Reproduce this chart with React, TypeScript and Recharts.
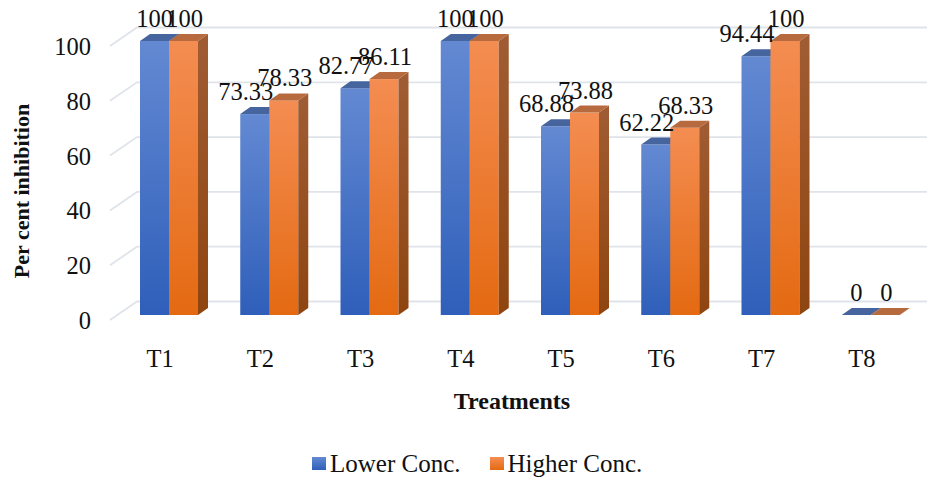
import React from "react";
import { BarChart, Bar, XAxis, YAxis, CartesianGrid, LabelList, Legend } from "recharts";

const treatments = ["T1", "T2", "T3", "T4", "T5", "T6", "T7", "T8"];
const lowerConc = [100, 73.33, 82.77, 100, 68.88, 62.22, 94.44, 0];
const higherConc = [100, 78.33, 86.11, 100, 73.88, 68.33, 100, 0];
const yTicks = [0, 20, 40, 60, 80, 100];
const data = treatments.map((t, i) => ({ t, lower: lowerConc[i], higher: higherConc[i] }));

const FONT = "'Liberation Serif', 'Times New Roman', serif";
const FS = 24.5;
const DEPTH_X = 10;
const DEPTH_Y = 7;

const LOWER = { id: "gradLower", a: "#6389d2", b: "#2f5fba", top: "#46659f", side: "#3c5a94", sideB: "#264a8a" };
const HIGHER = { id: "gradHigher", a: "#f48d52", b: "#e46a12", top: "#b66a3e", side: "#a05c33", sideB: "#8e4510" };

const box3d = (c: typeof LOWER) => (p: any) => {
  const { x, y, width: w, height: h } = p;
  return (
    <g>
      {h > 0 && <rect x={x} y={y} width={w} height={h} fill={`url(#${c.id})`} />}
      {h > 0 && (
        <polygon
          points={`${x + w},${y} ${x + w + DEPTH_X},${y - DEPTH_Y} ${x + w + DEPTH_X},${y + h - DEPTH_Y} ${x + w},${y + h}`}
          fill={`url(#${c.id}Side)`}
        />
      )}
      <polygon
        points={`${x},${y} ${x + DEPTH_X},${y - DEPTH_Y} ${x + w + DEPTH_X},${y - DEPTH_Y} ${x + w},${y}`}
        fill={c.top}
      />
    </g>
  );
};

const wallLine = (p: any) => {
  const y = p.y1 - 13.5;
  const isFloor = Math.abs(p.y1 - 314) < 1;
  return (
    <g key={p.y1}>
      <polyline points={`110,${y + 18.5} 137,${y} 927,${y}`} fill="none" stroke="#dfe3ea" strokeWidth={1.8} />
      {isFloor && <line x1={110} x2={913} y1={y + 18.5} y2={y + 18.5} stroke="#dfe3ea" strokeWidth={1.8} />}
    </g>
  );
};

const valueLabel = (shift: (v: number) => number) => (p: any) => {
  const { x, y, width, value } = p;
  return (
    <text x={x + width / 2 + shift(value)} y={y - 14} textAnchor="middle" fontFamily={FONT} fontSize={FS} fill="#111">
      {value}
    </text>
  );
};

const yTick = (p: any) => (
  <text x={91} y={p.y + 14} textAnchor="end" fontFamily={FONT} fontSize={FS} fill="#111">
    {p.payload.value}
  </text>
);

const xTick = (p: any) => (
  <text x={p.x - 9} y={367} textAnchor="middle" fontFamily={FONT} fontSize={FS} fill="#111">
    {p.payload.value}
  </text>
);

const Swatch = ({ c }: { c: typeof LOWER }) => (
  <span style={{ display: "inline-block", width: 14, height: 13, marginRight: 4, background: `linear-gradient(${c.a}, ${c.b})` }} />
);

const legendContent = () => (
  <div style={{ display: "flex", alignItems: "center", fontFamily: FONT, fontSize: 25, color: "#111", whiteSpace: "nowrap" }}>
    <Swatch c={LOWER} />
    <span style={{ marginRight: 29, position: "relative", top: 1 }}>Lower Conc.</span>
    <Swatch c={HIGHER} />
    <span style={{ position: "relative", top: 1 }}>Higher Conc.</span>
  </div>
);

export default function App() {
  return (
    <div style={{ position: "fixed", left: 0, top: 0, width: 927, height: 483, background: "#fff" }}>
      <BarChart
        width={927}
        height={483}
        data={data}
        margin={{ top: 41, right: 6, bottom: 0, left: 0 }}
        barSize={29}
        barGap={0}
      >
        <defs>
          {[LOWER, HIGHER].map((c) => (
            <React.Fragment key={c.id}>
              <linearGradient id={c.id} x1="0" y1="0" x2="0" y2="1">
                <stop offset="0" stopColor={c.a} />
                <stop offset="1" stopColor={c.b} />
              </linearGradient>
              <linearGradient id={`${c.id}Side`} x1="0" y1="0" x2="0" y2="1">
                <stop offset="0" stopColor={c.side} />
                <stop offset="1" stopColor={c.sideB} />
              </linearGradient>
            </React.Fragment>
          ))}
        </defs>
        <CartesianGrid vertical={false} horizontal={wallLine} />
        <XAxis
          dataKey="t"
          height={140}
          axisLine={false}
          tickLine={false}
          tick={xTick}
          label={{
            value: "Treatments",
            position: "insideBottom",
            offset: 46,
            dx: -8,
            style: { fontFamily: FONT, fontSize: 24, fontWeight: "bold", fill: "#111" },
          }}
        />
        <YAxis
          width={119}
          domain={[0, 100]}
          ticks={yTicks}
          axisLine={false}
          tickLine={false}
          tick={yTick}
          label={{
            value: "Per cent inhibition",
            angle: -90,
            position: "insideLeft",
            offset: 0,
            dx: 21,
            dy: 13,
            style: { fontFamily: FONT, fontSize: 22, fontWeight: "bold", fill: "#111", textAnchor: "middle" },
          }}
        />
        <Bar dataKey="lower" isAnimationActive={false} shape={box3d(LOWER)}>
          <LabelList dataKey="lower" content={valueLabel((v) => (v === 100 || v === 0 ? 0 : -9))} />
        </Bar>
        <Bar dataKey="higher" isAnimationActive={false} shape={box3d(HIGHER)}>
          <LabelList dataKey="higher" content={valueLabel(() => 1)} />
        </Bar>
        <Legend content={legendContent} wrapperStyle={{ position: "absolute", left: 312, top: 449, width: "auto" }} />
      </BarChart>
    </div>
  );
}
